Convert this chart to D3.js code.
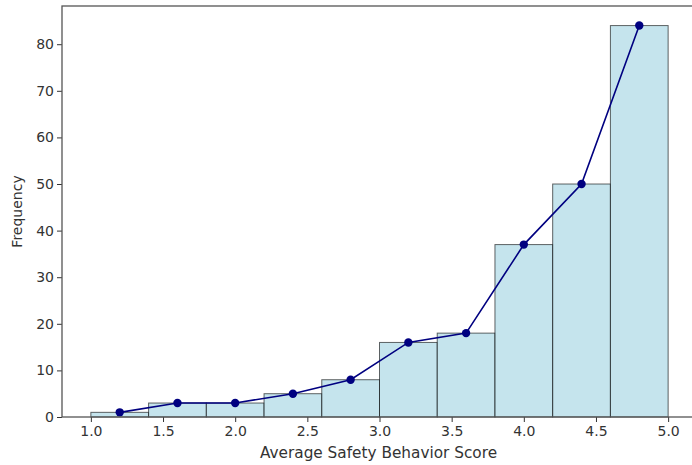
<!DOCTYPE html>
<html><head><meta charset="utf-8">
<script src="https://cdn.jsdelivr.net/npm/d3@7"></script>
<style>body{margin:0;background:#fff}svg{display:block}</style>
</head><body>
<script>
const binEdges = [1.0,1.4,1.8,2.2,2.6,3.0,3.4,3.8,4.2,4.6,5.0];
const frequencies = [1,3,3,5,8,16,18,37,50,84];
const xTicks = [1.0,1.5,2.0,2.5,3.0,3.5,4.0,4.5,5.0];
const yTicks = [0,10,20,30,40,50,60,70,80];
const xLabel = "Average Safety Behavior Score";
const yLabel = "Frequency";

const W = 692, H = 465;
const m = {left:62, top:6, right:697, bottom:417};
const svg = d3.select("body").append("svg").attr("width",W).attr("height",H);
const x = d3.scaleLinear().domain([0.8,5.2]).range([m.left,m.right]);
const y = d3.scaleLinear().domain([0,88.2]).range([m.bottom,m.top]);

const bins = frequencies.map((f,i)=>({x0:binEdges[i],x1:binEdges[i+1],f}));
svg.append("g").selectAll("rect").data(bins).join("rect")
  .attr("x",d=>x(d.x0)).attr("width",d=>x(d.x1)-x(d.x0))
  .attr("y",d=>y(d.f)).attr("height",d=>y(0)-y(d.f))
  .attr("fill","#add8e6").attr("fill-opacity",0.7)
  .attr("stroke","#000").attr("stroke-opacity",0.6).attr("stroke-width",1);

const pts = bins.map(d=>({c:(d.x0+d.x1)/2,f:d.f}));
svg.append("path").datum(pts)
  .attr("d",d3.line().x(d=>x(d.c)).y(d=>y(d.f)))
  .attr("fill","none").attr("stroke","#000080").attr("stroke-width",1.6);
svg.append("g").selectAll("circle").data(pts).join("circle")
  .attr("cx",d=>x(d.c)).attr("cy",d=>y(d.f)).attr("r",4.2).attr("fill","#000080");

const font = "DejaVu Sans";
const xAxis = svg.append("g").attr("transform",`translate(0,${m.bottom})`)
  .call(d3.axisBottom(x).tickValues(xTicks).tickFormat(d3.format(".1f")).tickSize(5).tickPadding(4));
const yAxis = svg.append("g").attr("transform",`translate(${m.left},0)`)
  .call(d3.axisLeft(y).tickValues(yTicks).tickFormat(d3.format("d")).tickSize(5).tickPadding(3));
[xAxis,yAxis].forEach(a=>{
  a.select(".domain").remove();
  a.selectAll("line").attr("stroke","#333");
  a.selectAll("text").attr("font-family",font).attr("font-size",14).attr("fill","#333");
});
// spines
svg.append("rect").attr("x",m.left).attr("y",m.top).attr("width",m.right-m.left).attr("height",m.bottom-m.top)
  .attr("fill","none").attr("stroke","#555").attr("stroke-width",1.3);

svg.append("text").attr("x",(m.left+m.right)/2 - 1).attr("y",458).attr("text-anchor","middle")
  .attr("font-family",font).attr("font-size",15.3).attr("fill","#333").text(xLabel);
svg.append("text").attr("transform",`translate(22,${(m.top+m.bottom)/2}) rotate(-90)`).attr("text-anchor","middle")
  .attr("font-family",font).attr("font-size",14).attr("fill","#333").text(yLabel);
</script>
</body></html>
